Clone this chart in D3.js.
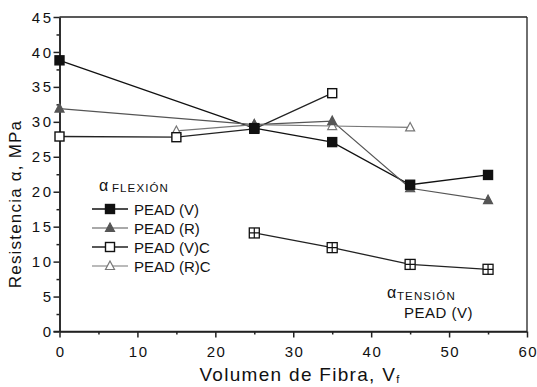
<!DOCTYPE html>
<html><head><meta charset="utf-8">
<script src="https://cdn.jsdelivr.net/npm/d3@7"></script>
<style>body{margin:0;background:#fff}svg{display:block}text{font-family:"Liberation Sans",Arial,sans-serif;fill:#111}</style>
</head><body><svg id="c" width="537" height="387"></svg>
<script>
const xTicks = [0,10,20,30,40,50,60];
const yTicks = [0,5,10,15,20,25,30,35,40,45];
const peadV_x = [0,25,35,45,55];
const peadV_y = [38.8,29.1,27.1,21.0,22.4];
const peadR_x = [0,25,35,45,55];
const peadR_y = [31.9,29.6,30.1,20.5,18.8];
const peadVC_x = [0,15,25,35];
const peadVC_y = [27.9,27.8,29.0,34.1];
const peadRC_x = [15,25,35,45];
const peadRC_y = [28.7,29.6,29.4,29.2];
const tension_x = [25,35,45,55];
const tension_y = [14.1,12.0,9.6,8.9];
const legendLabels = ["PEAD (V)","PEAD (R)","PEAD (V)C","PEAD (R)C"];

const svg = d3.select("#c");
const x = d3.scaleLinear().domain([0,60]).range([59.5,527]);
const y = d3.scaleLinear().domain([0,45]).range([331.5,17]);

// frame
svg.append("line").attr("x1",x(0)).attr("x2",x(60)).attr("y1",y(45)).attr("y2",y(45)).attr("stroke","#222").attr("stroke-width",1.3);
svg.append("line").attr("x1",x(60)).attr("x2",x(60)).attr("y1",y(45)).attr("y2",y(0)).attr("stroke","#222").attr("stroke-width",1.3);

const xAxis = svg.append("g").attr("transform",`translate(0,${y(0)})`)
  .call(d3.axisBottom(x).tickValues(xTicks).tickSize(6).tickPadding(9).tickSizeOuter(0));
const xMinor = svg.append("g").attr("transform",`translate(0,${y(0)})`)
  .call(d3.axisBottom(x).tickValues([5,15,25,35,45,55]).tickSize(3).tickFormat("").tickSizeOuter(0));
const yAxis = svg.append("g").attr("transform",`translate(${x(0)},0)`)
  .call(d3.axisLeft(y).tickValues(yTicks).tickSize(6).tickPadding(0).tickSizeOuter(0));
const yMinor = svg.append("g").attr("transform",`translate(${x(0)},0)`)
  .call(d3.axisLeft(y).tickValues(d3.range(2.5,45,5)).tickSize(3).tickFormat("").tickSizeOuter(0));
[xAxis,xMinor,yAxis,yMinor].forEach(g=>{
  g.select(".domain").attr("stroke","#222").attr("stroke-width",1.5);
  g.selectAll(".tick line").attr("stroke","#222").attr("stroke-width",1.5);
  g.selectAll("text").attr("font-size",15).attr("font-family","Liberation Sans, Arial, sans-serif").attr("fill","#222");
});
xAxis.selectAll("text").attr("letter-spacing",1.5).attr("dx",0.75);
yAxis.selectAll("text").attr("letter-spacing",2.5).attr("dy","0.34em");
xAxis.select(".domain").attr("d",`M${x(0)-6},0H${x(60)}`);

// axis titles
const xt = svg.append("text").attr("x",300).attr("y",381).attr("text-anchor","middle").attr("font-size",19).attr("letter-spacing",1.3);
xt.append("tspan").text("Volumen de Fibra, V");
xt.append("tspan").attr("font-size",11).attr("dy",2).text("f");
svg.append("text").attr("transform","translate(21,204) rotate(-90)").attr("text-anchor","middle").attr("font-size",17).attr("letter-spacing",1.2).text("Resistencia α, MPa");

const line = d3.line().x(d=>x(d[0])).y(d=>y(d[1]));
const zip = (a,b)=>a.map((v,i)=>[v,b[i]]);

const series = [
  {pts:zip(peadV_x,peadV_y), stroke:"#111", w:1.3, marker:"sq", fill:"#111"},
  {pts:zip(peadR_x,peadR_y), stroke:"#555", w:1.2, marker:"tri", fill:"#555"},
  {pts:zip(peadVC_x,peadVC_y), stroke:"#222", w:1.3, marker:"sq", fill:"#fff"},
  {pts:zip(peadRC_x,peadRC_y), stroke:"#777", w:1.1, marker:"tri", fill:"#fff"}
];
function drawMarker(g,type,cx,cy,fill,stroke){
  if(type==="sq"){
    g.append("rect").attr("x",cx-4.5).attr("y",cy-4.5).attr("width",9).attr("height",9)
     .attr("fill",fill).attr("stroke","#111").attr("stroke-width",1.4);
  } else if(type==="tri"){
    g.append("path").attr("d",`M${cx},${cy-5}L${cx+4.5},${cy+3.5}L${cx-4.5},${cy+3.5}Z`)
     .attr("fill",fill).attr("stroke",stroke).attr("stroke-width",1.2);
  } else if(type==="plus"){
    g.append("rect").attr("x",cx-5).attr("y",cy-5).attr("width",10).attr("height",10)
     .attr("fill","#fff").attr("stroke","#111").attr("stroke-width",1.3);
    g.append("path").attr("d",`M${cx-5},${cy}H${cx+5}M${cx},${cy-5}V${cy+5}`).attr("stroke","#111").attr("stroke-width",1.2);
  }
}
series.forEach(s=>{
  svg.append("path").attr("d",line(s.pts)).attr("fill","none").attr("stroke",s.stroke).attr("stroke-width",s.w);
});
series.slice().reverse().forEach(s=>{
  const g = svg.append("g");
  s.pts.forEach(p=>drawMarker(g,s.marker,x(p[0]),y(p[1]),s.fill,s.stroke));
});
// tension
const tpts = zip(tension_x,tension_y);
svg.append("path").attr("d",line(tpts)).attr("fill","none").attr("stroke","#222").attr("stroke-width",1.3);
const tg = svg.append("g");
tpts.forEach(p=>drawMarker(tg,"plus",x(p[0]),y(p[1])));

// legend
svg.append("text").attr("x",99).attr("y",191).attr("font-size",16).text("α");
svg.append("text").attr("x",112).attr("y",192).attr("font-size",11.5).attr("letter-spacing",1.1).text("FLEXIÓN");
const ly = [209,228,247,266];
series.forEach((s,i)=>{
  const g = svg.append("g");
  g.append("line").attr("x1",92).attr("x2",128).attr("y1",ly[i]).attr("y2",ly[i]).attr("stroke",s.stroke).attr("stroke-width",s.w);
  drawMarker(g,s.marker,110,ly[i],s.fill,s.stroke);
  g.append("text").attr("x",134).attr("y",ly[i]+5.5).attr("font-size",15).text(legendLabels[i]);
});
// tension label
svg.append("text").attr("x",387).attr("y",298).attr("font-size",16).text("α");
svg.append("text").attr("x",397).attr("y",300).attr("font-size",11.5).attr("letter-spacing",1.1).text("TENSIÓN");
svg.append("text").attr("x",404).attr("y",318).attr("font-size",15).attr("letter-spacing",0.5).text("PEAD (V)");
</script></body></html>
